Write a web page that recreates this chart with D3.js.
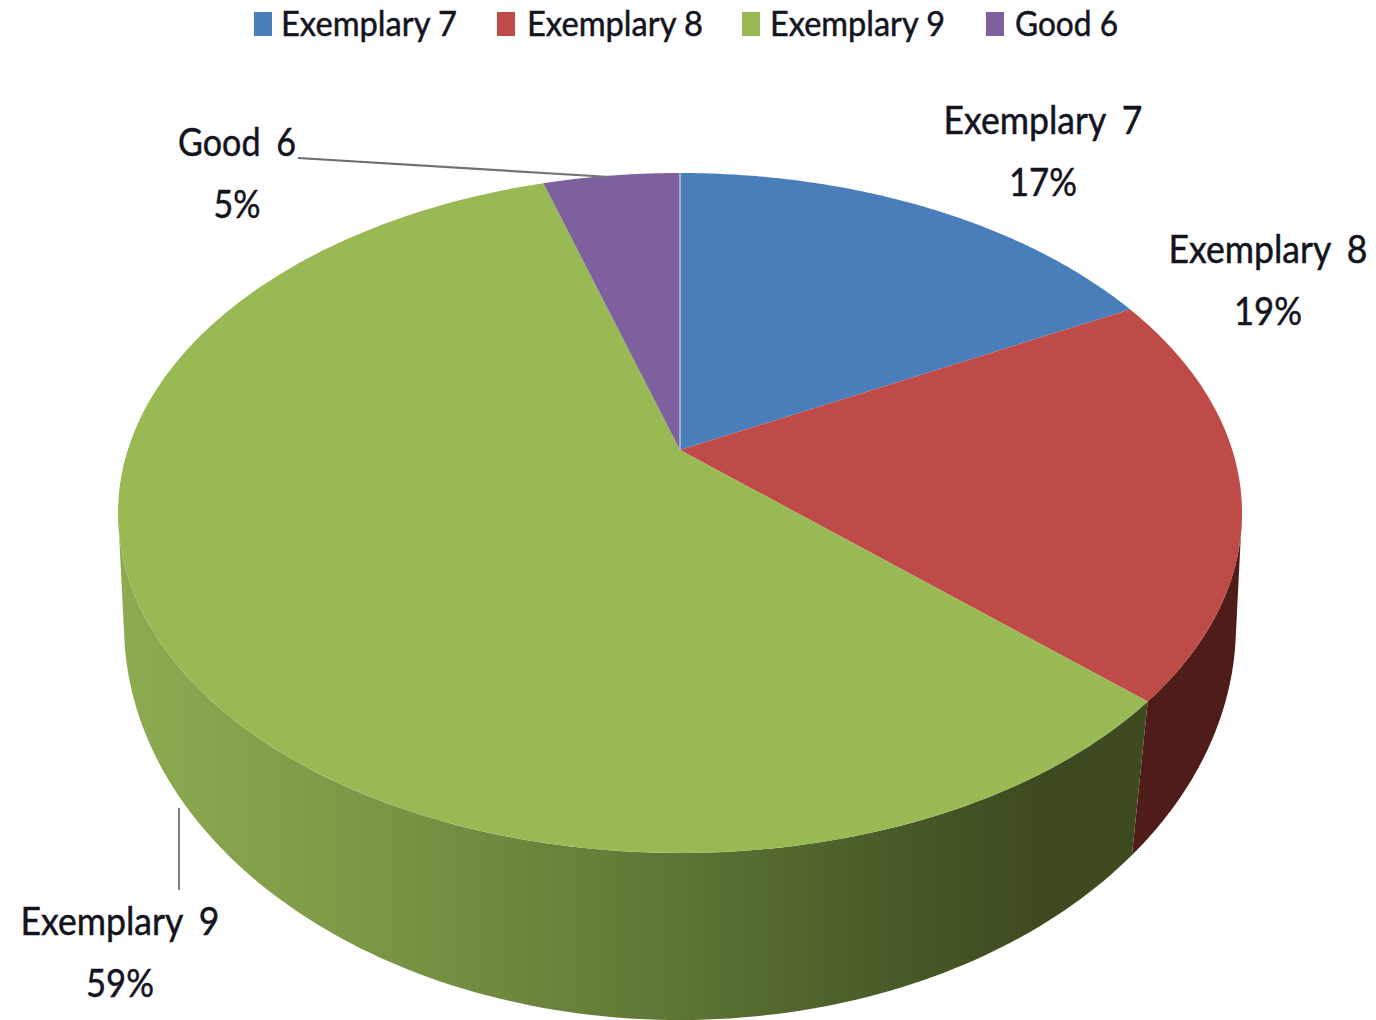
<!DOCTYPE html>
<html><head><meta charset="utf-8">
<script src="https://cdn.jsdelivr.net/npm/d3@7"></script>
<style>html,body{margin:0;background:#fff}svg{display:block}text{font-family:Lato,"Open Sans",sans-serif;fill:#14141e}</style>
</head><body><svg id="c" width="1376" height="1020"></svg>
<script>
const categories=["Exemplary 7","Exemplary 8","Exemplary 9","Good 6"];
const seriesValues=[17.3,19.4,58.6,4.7];
const sliceColors=["#4a7ebb","#be4b48","#98b954","#7f609f"];
const sideGreenStops=[[0,"#8cab50"],[0.25,"#7a9645"],[0.5,"#627a37"],[0.75,"#485a27"],[0.9,"#3d4a20"],[1,"#3e4a20"]];
const sideRed="#4f1c1a";

const svg=d3.select("#c");
const defs=svg.append("defs");
const grad=defs.append("linearGradient").attr("id","gs").attr("gradientUnits","userSpaceOnUse")
  .attr("x1",125).attr("x2",1150).attr("y1",0).attr("y2",0);
grad.selectAll("stop").data(sideGreenStops).join("stop").attr("offset",d=>d[0]).attr("stop-color",d=>d[1]);
const lg=defs.append("linearGradient").attr("id","lead").attr("gradientUnits","userSpaceOnUse")
  .attr("x1",298).attr("x2",610).attr("y1",0).attr("y2",0);
lg.append("stop").attr("offset",0).attr("stop-color","#6a6a6a");
lg.append("stop").attr("offset",1).attr("stop-color","#777");

// Tilted disc: a circle seen in perspective, so the pie's centre sits above the ellipse's centre
function projector(cx,cy,rx,ry,c){
  const k=Math.sqrt(1-c*c);
  return a=>{const x=Math.sin(a),y=-Math.cos(a),d=1-c*y;
    return [cx+rx*x*k/d, cy+ry*(y-c)/d];};
}
const topP=projector(680,513,562,340,0.185);
const botP=projector(680,625,556,395,0.145);
const apex=[680,450];

const arcs=d3.pie().sort(null).value(d=>d)(seriesValues);
const line=d3.line();
const samples=(a0,a1,f)=>d3.range(0,121).map(i=>f(a0+(a1-a0)*i/120));

// side walls
const rightExtreme=Math.PI-Math.acos(0.185);
const leftExtreme=Math.PI+Math.acos(0.185);
const wall=(a0,a1)=>line([...samples(a0,a1,topP),...samples(a1,a0,botP)])+"Z";
const redArc=arcs[1], greenArc=arcs[2];
svg.append("path").attr("d",wall(rightExtreme,redArc.endAngle)).attr("fill",sideRed);
svg.append("path").attr("d",wall(greenArc.startAngle,leftExtreme)).attr("fill","url(#gs)");

// top face
svg.selectAll("path.slice").data(arcs).join("path").attr("class","slice")
  .attr("d",d=>line([apex,...samples(d.startAngle,d.endAngle,topP)])+"Z")
  .attr("fill",(d,i)=>sliceColors[i]);
svg.append("line").attr("x1",apex[0]).attr("y1",apex[1]).attr("x2",topP(0)[0]).attr("y2",topP(0)[1])
  .attr("stroke","#b4c6de").attr("stroke-width",1.5);

// leader lines
svg.append("path").attr("d",line([[298,158],[610,177]])).attr("fill","none").attr("stroke","url(#lead)").attr("stroke-width",2.2);
svg.append("path").attr("d",line([[179,808],[179,890]])).attr("fill","none").attr("stroke","#808080").attr("stroke-width",2);

// legend
const legendSwatchX=[254,497,742,986], legendTextX=[281,527,770,1015], legendTextW=[176,176,175,103];
categories.forEach((c,i)=>{
  svg.append("rect").attr("x",legendSwatchX[i]).attr("y",12).attr("width",18).attr("height",24).attr("fill",sliceColors[i]);
  svg.append("text").attr("x",legendTextX[i]).attr("y",36).attr("font-size",34)
    .attr("textLength",legendTextW[i]).attr("lengthAdjust","spacingAndGlyphs").attr("stroke","#14141e").attr("stroke-width",0.5).text(c);
});

// data labels
const labelCX=[1043,1268,120,237], labelY=[134,263,935,156], labelW=[199,199,199,118], pctW=[68,68,68,47];
const pct=d3.format(".0f");
categories.forEach((c,i)=>{
  svg.append("text").attr("x",labelCX[i]-labelW[i]/2).attr("y",labelY[i]).attr("font-size",39)
    .attr("word-spacing",8).attr("textLength",labelW[i]).attr("lengthAdjust","spacingAndGlyphs").attr("stroke","#14141e").attr("stroke-width",0.5).text(c);
  svg.append("text").attr("x",labelCX[i]-pctW[i]/2).attr("y",labelY[i]+62).attr("font-size",39)
    .attr("textLength",pctW[i]).attr("lengthAdjust","spacingAndGlyphs").attr("stroke","#14141e").attr("stroke-width",0.5).text(pct(seriesValues[i])+"%");
});
</script></body></html>
